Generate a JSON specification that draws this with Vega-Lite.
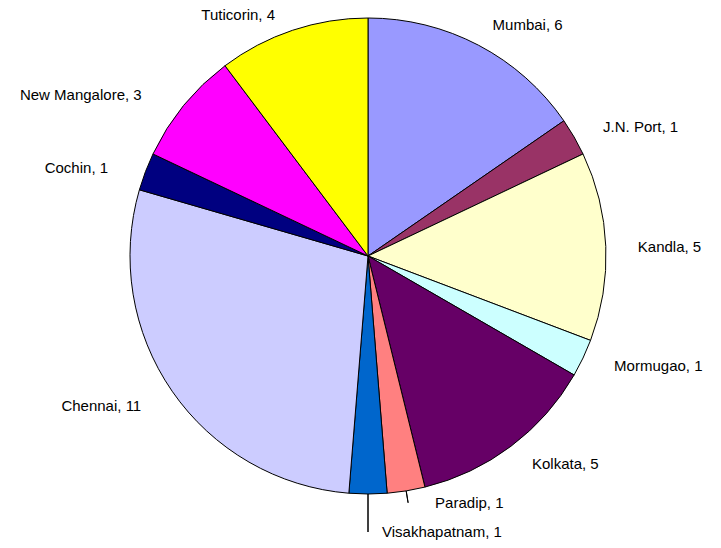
{
  "$schema": "https://vega.github.io/schema/vega-lite/v6.json",
  "autosize": {"type": "none"},
  "width": 706,
  "height": 512,
  "padding": {"left": 15, "top": 0, "right": 0, "bottom": 36},
  "background": "white",
  "data": {
    "values": [
      {"i": 1, "port": "Mumbai", "ships": 6, "label": "Mumbai, 6"},
      {"i": 2, "port": "J.N. Port", "ships": 1, "label": "J.N. Port, 1"},
      {"i": 3, "port": "Kandla", "ships": 5, "label": "Kandla, 5"},
      {"i": 4, "port": "Mormugao", "ships": 1, "label": "Mormugao, 1"},
      {"i": 5, "port": "Kolkata", "ships": 5, "label": "Kolkata, 5"},
      {"i": 6, "port": "Paradip", "ships": 1, "label": "Paradip, 1"},
      {"i": 7, "port": "Visakhapatnam", "ships": 1, "label": "Visakhapatnam, 1"},
      {"i": 8, "port": "Chennai", "ships": 11, "label": "Chennai, 11"},
      {"i": 9, "port": "Cochin", "ships": 1, "label": "Cochin, 1"},
      {"i": 10, "port": "New Mangalore", "ships": 3, "label": "New Mangalore, 3"},
      {"i": 11, "port": "Tuticorin", "ships": 4, "label": "Tuticorin, 4"}
    ]
  },
  "encoding": {
    "theta": {"field": "ships", "type": "quantitative", "stack": true},
    "order": {"field": "i", "type": "quantitative"}
  },
  "layer": [
    {
      "mark": {"type": "arc", "radius": 238, "stroke": "black", "strokeWidth": 1},
      "encoding": {
        "color": {
          "field": "port",
          "type": "nominal",
          "legend": null,
          "scale": {
            "domain": ["Mumbai", "J.N. Port", "Kandla", "Mormugao", "Kolkata", "Paradip", "Visakhapatnam", "Chennai", "Cochin", "New Mangalore", "Tuticorin"],
            "range": ["#9999FF", "#993366", "#FFFFCC", "#CCFFFF", "#660066", "#FF8080", "#0066CC", "#CCCCFF", "#000080", "#FF00FF", "#FFFF00"]
          }
        }
      }
    },
    {
      "mark": {"type": "arc", "radius": 250, "radius2": 238, "padAngle": 3, "fillOpacity": 0, "stroke": "black", "strokeWidth": 1},
      "encoding": {
        "strokeOpacity": {"condition": {"test": "datum.port == 'Paradip'", "value": 1}, "value": 0}
      }
    },
    {
      "mark": {"type": "arc", "radius": 276, "radius2": 238, "padAngle": 3, "fillOpacity": 0, "stroke": "black", "strokeWidth": 1},
      "encoding": {
        "strokeOpacity": {"condition": {"test": "datum.port == 'Visakhapatnam'", "value": 1}, "value": 0}
      }
    },
    {
      "mark": {"type": "text", "radius": 268, "align": "left", "baseline": "middle", "dy": 6, "font": "Liberation Sans", "fontSize": 15, "color": "#000000"},
      "encoding": {"text": {"condition": {"test": "datum.port == 'Mumbai'", "field": "label"}, "value": ""}}
    },
    {
      "mark": {"type": "text", "radius": 268, "align": "left", "baseline": "middle", "dx": 3, "dy": 5, "font": "Liberation Sans", "fontSize": 15, "color": "#000000"},
      "encoding": {"text": {"condition": {"test": "datum.port == 'J.N. Port'", "field": "label"}, "value": ""}}
    },
    {
      "mark": {"type": "text", "radius": 268, "align": "left", "baseline": "middle", "dx": 2, "dy": 2, "font": "Liberation Sans", "fontSize": 15, "color": "#000000"},
      "encoding": {"text": {"condition": {"test": "datum.port == 'Kandla'", "field": "label"}, "value": ""}}
    },
    {
      "mark": {"type": "text", "radius": 268, "align": "left", "baseline": "middle", "dx": 4, "dy": -5, "font": "Liberation Sans", "fontSize": 15, "color": "#000000"},
      "encoding": {"text": {"condition": {"test": "datum.port == 'Mormugao'", "field": "label"}, "value": ""}}
    },
    {
      "mark": {"type": "text", "radius": 268, "align": "left", "baseline": "middle", "dx": 3, "dy": -6, "font": "Liberation Sans", "fontSize": 15, "color": "#000000"},
      "encoding": {"text": {"condition": {"test": "datum.port == 'Kolkata'", "field": "label"}, "value": ""}}
    },
    {
      "mark": {"type": "text", "radius": 278, "align": "right", "baseline": "middle", "dx": 2, "dy": -8, "font": "Liberation Sans", "fontSize": 15, "color": "#000000"},
      "encoding": {"text": {"condition": {"test": "datum.port == 'Chennai'", "field": "label"}, "value": ""}}
    },
    {
      "mark": {"type": "text", "radius": 278, "align": "right", "baseline": "middle", "dy": 11, "font": "Liberation Sans", "fontSize": 15, "color": "#000000"},
      "encoding": {"text": {"condition": {"test": "datum.port == 'Cochin'", "field": "label"}, "value": ""}}
    },
    {
      "mark": {"type": "text", "radius": 278, "align": "right", "baseline": "middle", "dx": -11, "dy": 15, "font": "Liberation Sans", "fontSize": 15, "color": "#000000"},
      "encoding": {"text": {"condition": {"test": "datum.port == 'New Mangalore'", "field": "label"}, "value": ""}}
    },
    {
      "mark": {"type": "text", "radius": 240, "align": "right", "baseline": "middle", "dx": -17, "dy": -13, "font": "Liberation Sans", "fontSize": 15, "color": "#000000"},
      "encoding": {"text": {"condition": {"test": "datum.port == 'Tuticorin'", "field": "label"}, "value": ""}}
    },
    {
      "mark": {"type": "text", "radius": 250, "align": "left", "baseline": "middle", "dx": 27, "font": "Liberation Sans", "fontSize": 15, "color": "#000000"},
      "encoding": {"text": {"condition": {"test": "datum.port == 'Paradip'", "field": "label"}, "value": ""}}
    },
    {
      "mark": {"type": "text", "radius": 276, "align": "left", "baseline": "middle", "dx": 14, "font": "Liberation Sans", "fontSize": 15, "color": "#000000"},
      "encoding": {"text": {"condition": {"test": "datum.port == 'Visakhapatnam'", "field": "label"}, "value": ""}}
    }
  ]
}
